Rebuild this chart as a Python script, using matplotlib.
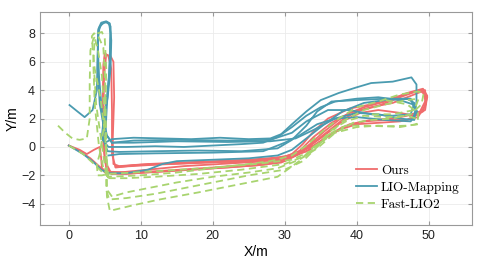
import numpy as np
import matplotlib.pyplot as plt

# trajectory waypoints (metres)
ours_x1 = [0.0, 1.5, 3.0, 4.3, 5.5, 8, 12, 17, 22, 27, 30, 32, 34, 36, 38, 40, 43, 46, 48.5, 49.5, 49.6, 48.8, 47, 45, 42, 39, 36.5, 34, 31.5, 28, 22, 15, 9, 6.5, 6.0, 6.0, 5.9, 5.5, 5.0, 4.8, 4.7, 4.8, 5.2, 6.0]
ours_y1 = [0.1, -0.3, -0.8, -1.4, -1.85, -1.9, -1.75, -1.6, -1.45, -1.25, -1.0, -0.5, 0.3, 1.1, 1.9, 2.5, 2.9, 3.5, 3.95, 4.0, 3.3, 2.5, 2.2, 2.0, 1.9, 1.6, 0.9, 0.1, -0.5, -0.85, -1.0, -1.15, -1.3, -1.45, -0.5, 2.5, 5.5, 6.4, 6.6, 5.8, 3.0, 0.0, -1.5, -1.9]
ours_x2 = [6.0, 9, 14, 20, 26, 29.5, 31.5, 33.5, 35.5, 37.5, 39, 41, 44, 47, 49.2, 49.8, 49.5, 48, 46, 43, 40.5, 38, 35.5, 33, 30, 25, 18, 11, 7, 6.2, 6.1]
ours_y2 = [-1.9, -1.85, -1.7, -1.5, -1.3, -1.1, -0.6, 0.2, 1.1, 1.9, 2.4, 2.8, 3.2, 3.8, 4.1, 3.6, 2.6, 2.2, 2.4, 2.6, 2.4, 1.8, 0.8, -0.1, -0.7, -0.9, -1.05, -1.2, -1.35, -1.2, 0.5]
ours_x3 = [0.0, 1.5, 2.5, 3.5, 4.3, 4.5, 4.6, 5.0, 7, 11, 16, 21, 26, 29, 31, 32.5, 34, 36, 39, 42, 45.5, 48, 49.3, 49.6, 48.5, 46, 43, 40, 37.5, 35, 33, 30, 24, 16, 10, 6.5]
ours_y3 = [0.1, -0.2, -0.5, -0.2, 0.0, -0.8, -1.5, -1.8, -1.8, -1.6, -1.35, -1.2, -1.05, -0.9, -0.5, 0.2, 1.1, 2.0, 2.7, 3.0, 3.5, 3.9, 3.9, 3.0, 2.1, 1.8, 1.7, 1.6, 1.2, 0.4, -0.3, -0.8, -1.0, -1.15, -1.25, -1.4]
ours_x4 = [6.1, 6.3, 6.2, 5.8, 5.2, 4.9, 4.8, 5.0, 5.8, 9, 14, 20, 26, 30, 32, 34, 36.5, 39, 42, 45, 47.5, 49.0, 49.8, 49.2, 47, 44, 41, 38, 35.5, 33.5, 31, 26, 19, 12, 7]
ours_y4 = [0.5, 3.5, 6.0, 6.4, 6.5, 5.0, 2.0, -1.0, -1.75, -1.8, -1.65, -1.45, -1.2, -0.9, -0.3, 0.7, 1.7, 2.4, 2.8, 3.1, 3.6, 3.9, 3.5, 2.5, 1.9, 1.9, 1.8, 1.4, 0.6, -0.2, -0.7, -0.95, -1.1, -1.25, -1.4]

lio_x1 = [0.1, 1.2, 2.2, 3.3, 3.9, 4.0, 4.1, 4.5, 5.2, 5.7, 5.9, 5.8, 5.4, 4.8, 4.6, 5.0, 6.0, 9, 13, 17, 21, 25, 28, 29.5, 31, 33, 35, 37.5, 40, 42, 45, 47.6, 48.3, 48.3, 48.0, 46, 43, 40, 37, 34, 31.5, 28, 22, 15, 9, 6]
lio_y1 = [2.95, 2.5, 2.1, 2.6, 4.0, 6.5, 8.3, 8.75, 8.85, 8.7, 7.5, 5.5, 3.5, 1.8, 0.8, 0.3, 0.55, 0.65, 0.6, 0.55, 0.65, 0.55, 0.6, 0.9, 1.6, 2.5, 3.3, 3.8, 4.2, 4.5, 4.6, 4.9, 4.4, 3.2, 1.9, 2.0, 2.3, 2.4, 2.0, 1.2, 0.6, 0.4, 0.35, 0.4, 0.3, 0.3]
lio_x2 = [0.0, 2, 3.5, 4.5, 5.5, 8, 11, 13, 15, 20, 25, 29, 31, 33, 35.5, 38, 41, 44, 47, 48, 47.5, 45, 42, 39, 36, 33, 31, 28, 22, 15, 9, 6, 5.0, 4.3, 4.0, 4.1, 4.6, 5.3, 5.8, 5.7, 5.3, 5.0, 5.4, 7, 12, 18, 24, 29, 31, 33, 34.5, 36.5, 40, 44, 47.5, 48.2, 47.8]
lio_y2 = [0.1, -0.5, -1.1, -1.6, -1.85, -1.85, -1.6, -1.2, -1.0, -0.9, -0.8, -0.6, -0.2, 0.6, 1.6, 2.5, 3.1, 3.3, 3.4, 3.1, 2.3, 2.2, 2.3, 2.6, 2.6, 1.8, 1.0, 0.5, 0.45, 0.5, 0.45, 0.3, 1.0, 3.0, 5.5, 8.2, 8.7, 8.8, 8.5, 6.0, 3.0, 0.2, -0.3, -0.35, -0.3, -0.25, -0.3, -0.1, 0.5, 1.5, 2.5, 3.2, 3.3, 3.4, 3.4, 2.6, 2.0]
lio_x3 = [6, 5.3, 4.6, 4.2, 4.0, 4.3, 5.0, 5.6, 5.8, 5.6, 5.0, 4.7, 5.5, 8, 12, 16, 20, 24, 27, 29, 31, 33, 35, 37, 40, 43, 46, 47.8, 48.4, 47.5, 44, 40, 37, 34.5, 32, 30, 27, 20, 12, 7, 5.5]
lio_y3 = [0.3, 0.8, 2.5, 5.0, 7.5, 8.5, 8.8, 8.7, 8.0, 5.0, 2.0, 0.5, 0.0, 0.0, 0.05, 0.0, 0.1, 0.2, 0.3, 0.7, 1.4, 2.2, 2.8, 3.2, 3.4, 3.5, 3.3, 3.0, 2.5, 1.8, 1.9, 2.1, 2.0, 1.6, 0.8, 0.3, -0.3, -0.4, -0.45, -0.5, -0.6]

fast_x1 = [-1.5, -0.5, 0.5, 1.5, 2.5, 2.9, 2.9, 3.0, 3.4, 4.0, 4.6, 5.0, 5.2, 5.1, 5.2, 5.3, 5.2, 5.6, 8, 12, 16, 20, 25, 30, 32.5, 34.5, 36.5, 38.5, 41, 44, 47, 48.5, 48.5, 47, 44]
fast_y1 = [1.5, 1.0, 0.6, 0.5, 0.6, 2.0, 4.5, 6.8, 7.6, 8.0, 8.1, 7.6, 5.5, 3.0, 0.0, -1.5, -3.0, -3.7, -3.6, -3.3, -2.9, -2.5, -2.0, -1.6, -1.0, 0.0, 1.0, 1.5, 1.5, 1.45, 1.5, 1.6, 2.4, 3.0, 3.3]
fast_x2 = [0.0, 2, 3.5, 4.5, 5.5, 10, 15, 20, 25, 28, 31, 33, 35, 37.5, 40, 43, 46, 48.5, 49.3, 49.0, 47.5, 45, 42, 39.5, 37, 34.5, 32, 29, 25, 20, 15, 11, 8, 6, 5.3, 5.2, 5.0, 4.6, 4.0, 3.6, 3.4, 3.6, 4.2, 4.8, 5.5]
fast_y2 = [0.1, -0.5, -1.2, -1.7, -2.1, -2.0, -1.8, -1.5, -1.2, -1.0, -0.6, 0.1, 1.0, 2.0, 2.8, 3.2, 3.7, 3.9, 3.8, 3.0, 2.3, 2.0, 1.9, 1.7, 1.0, -0.1, -0.9, -1.5, -1.8, -2.1, -2.5, -2.9, -3.2, -3.5, -3.0, -1.0, 2.0, 5.0, 7.0, 7.6, 6.0, 3.0, 0.0, -1.5, -2.2]
fast_x3 = [5.5, 8, 12, 18, 24, 30, 33, 35, 36.5, 38.5, 41, 44, 47, 48.2, 48.3, 46, 43, 40, 37, 34, 32, 29, 24, 18, 12.6, 9, 5.7, 5.3, 5.2, 4.5, 3.8, 3.5]
fast_y3 = [-2.2, -2.2, -2.1, -1.9, -1.6, -1.2, -0.6, 0.4, 1.2, 1.8, 2.2, 2.1, 2.2, 2.0, 1.6, 1.4, 1.5, 1.4, 1.0, 0.0, -1.0, -2.1, -2.6, -3.2, -3.7, -4.1, -4.5, -3.5, -2.0, 0.5, 3.0, 5.5]
fast_x4 = [5.5, 5.3, 5.0, 4.4, 3.6, 3.3, 3.2, 3.5, 4.0, 4.8, 5.1, 4.9, 4.3, 3.9, 4.0, 4.6, 5.5, 9, 14, 20, 26, 31, 34, 36, 38, 41, 44, 47, 48.6, 48.0, 45, 42]
fast_y4 = [-2.2, -1.0, 1.0, 3.5, 5.5, 7.0, 7.8, 8.0, 7.9, 7.0, 4.0, 1.5, -0.5, -1.2, -2.0, -2.0, -1.9, -1.8, -1.65, -1.45, -1.2, -0.9, -0.2, 0.8, 1.8, 2.6, 3.0, 3.3, 3.4, 2.6, 2.3, 2.3]

ours_laps = [(ours_x1, ours_y1), (ours_x2, ours_y2), (ours_x3, ours_y3), (ours_x4, ours_y4)]
lio_laps = [(lio_x1, lio_y1), (lio_x2, lio_y2), (lio_x3, lio_y3)]
fast_laps = [(fast_x1, fast_y1), (fast_x2, fast_y2), (fast_x3, fast_y3), (fast_x4, fast_y4)]

c_ours = '#f06c6c'
c_lio = '#4a9bb0'
c_fast = '#a8d46f'

plt.rcParams['font.family'] = 'Liberation Sans'
fig = plt.figure(figsize=(4.85, 2.62), dpi=100)
ax = fig.add_axes([0.0825, 0.141, 0.8905, 0.813])

for i, (x, y) in enumerate(ours_laps):
    ax.plot(x, y, color=c_ours, lw=1.3, label='Ours' if i == 0 else None)
for i, (x, y) in enumerate(lio_laps):
    ax.plot(x, y, color=c_lio, lw=1.3, label='LIO-Mapping' if i == 0 else None)
for i, (x, y) in enumerate(fast_laps):
    ax.plot(x, y, color=c_fast, lw=1.3, ls=(0, (4, 2.5)),
            label='Fast-LIO2' if i == 0 else None)

ax.set_xlim(-4, 56)
ax.set_ylim(-5.5, 9.5)
ax.set_xticks([0, 10, 20, 30, 40, 50])
ax.set_yticks([-4, -2, 0, 2, 4, 6, 8])
ax.grid(True, color='#ebebeb', lw=0.6)
ax.set_axisbelow(True)
for s in ax.spines.values():
    s.set_color('#999999')
    s.set_linewidth(0.8)
ax.tick_params(direction='in', length=3, color='#999999', labelsize=9, labelcolor='#222222',
               top=True, right=True)
ax.set_xlabel('X/m', fontsize=10, labelpad=2)
ax.set_ylabel('Y/m', fontsize=10, labelpad=1)

ax.legend(loc='lower right', bbox_to_anchor=(0.99, 0.03), frameon=False,
          prop={'family': 'cmr10', 'size': 9.5}, handlelength=1.6, handletextpad=0.3,
          labelspacing=0.35, borderaxespad=0.2)

fig.savefig('out.png', dpi=100)
